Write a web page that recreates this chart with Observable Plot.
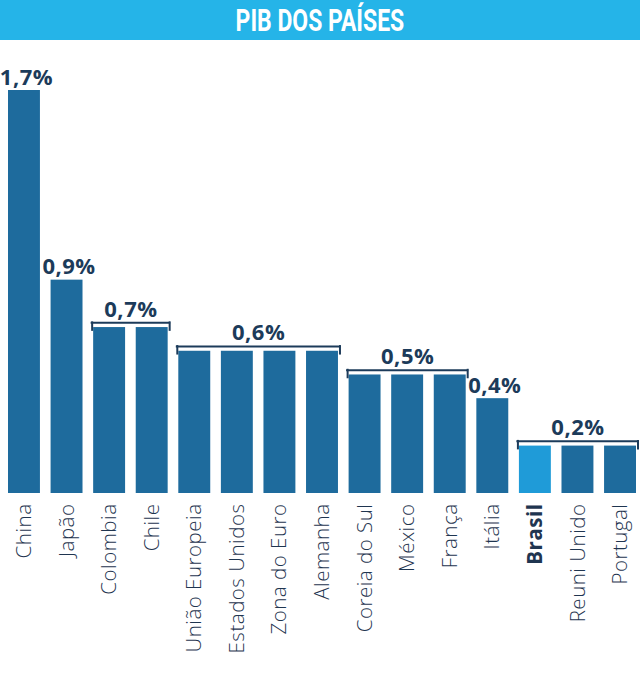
<!DOCTYPE html>
<html><head><meta charset="utf-8">
<script src="https://cdn.jsdelivr.net/npm/d3@7"></script>
<script src="https://cdn.jsdelivr.net/npm/@observablehq/plot@0.6"></script>
<style>
body{margin:0;background:#fff;}
#title{width:640px;height:40px;background:#25b4e8;color:#fff;text-align:center;line-height:41px;font-family:Roboto,"DejaVu Sans";font-weight:700;font-size:31px;overflow:hidden;}
#title span{display:inline-block;transform:scaleX(0.74);}
</style></head><body>
<div id="title"><span>PIB DOS PAÍSES</span></div>
<div id="chart"></div>
<script>
const paises = ["China","Japão","Colombia","Chile","União Europeia","Estados Unidos","Zona do Euro","Alemanha","Coreia do Sul","México","França","Itália","Brasil","Reuni Unido","Portugal"];
const valores = [1.7,0.9,0.7,0.7,0.6,0.6,0.6,0.6,0.5,0.5,0.5,0.4,0.2,0.2,0.2];
const destaque = "Brasil";

const data = paises.map((p,i)=>({pais:p, valor:valores[i]}));
const fmt = v => d3.format(".1f")(v).replace(".", ",") + "%";

// group consecutive equal values
const grupos = [];
data.forEach((d,i)=>{
  const g = grupos[grupos.length-1];
  if (g && g.valor === d.valor) { g.last = d.pais; g.n++; }
  else grupos.push({valor:d.valor, first:d.pais, last:d.pais, n:1});
});
const brackets = grupos.filter(g=>g.n>1);
const singles = grupos.filter(g=>g.n===1);

const W = 640, H = 636, ML = 8, MR = 4, PI = 0.25;
const STEP = (W-ML-MR)/(paises.length - PI);
const BW = STEP*(1-PI);
const NAVY = "#1c3b5a", DARK = "#1e6b9d", LIGHT = "#1f9bd8";
const LBL = {fill: NAVY, fontWeight: 700, fontSize: 22, lineAnchor: "bottom"};
const AX = {frameAnchor: "bottom", rotate: -90, textAnchor: "end", lineAnchor: "middle", dy: 10, fontSize: 20.5, fill: "#1f3550"};

const chart = Plot.plot({
  width: W, height: H,
  marginLeft: ML, marginRight: MR, marginTop: 50, marginBottom: 183,
  style: {fontFamily: "'Open Sans', sans-serif", fontSize: "20px", color: NAVY, background: "#fff", letterSpacing: "0.5px"},
  x: {domain: paises, paddingInner: PI, paddingOuter: 0, round: false, label: null, axis: null},
  y: {domain: [0, 1.7], axis: null},
  marks: [
    Plot.barY(data, {x:"pais", y:"valor", fill: d => d.pais===destaque ? LIGHT : DARK}),
    Plot.ruleY(brackets, {y: d=>d.valor+0.02, x1:"first", x2:"last", insetLeft:-2.5, insetRight:-2.5, stroke: NAVY, strokeWidth: 2}),
    Plot.ruleX(brackets, {x:"first", y1: d=>d.valor+0.024, y2: d=>d.valor-0.016, dx: -(BW/2+1.5), stroke: NAVY, strokeWidth: 2}),
    Plot.ruleX(brackets, {x:"last", y1: d=>d.valor+0.024, y2: d=>d.valor-0.016, dx: (BW/2+1.5), stroke: NAVY, strokeWidth: 2}),
    Plot.text(singles, {x:"first", y:"valor", text: d=>fmt(d.valor), dy:-6, dx: 2, ...LBL}),
    ...brackets.map(g => Plot.text([g], {x:"first", y:"valor", text: d=>fmt(d.valor), dy:-11, dx: (g.n-1)*STEP/2, ...LBL})),
    Plot.text(paises.filter(p=>p!==destaque), {x: d=>d, text: d=>d, fontWeight: 300, ...AX}),
    Plot.text([destaque], {x: d=>d, text: d=>d, fontWeight: 700, ...AX})
  ]
});
document.getElementById("chart").appendChild(chart);
</script>
</body></html>
